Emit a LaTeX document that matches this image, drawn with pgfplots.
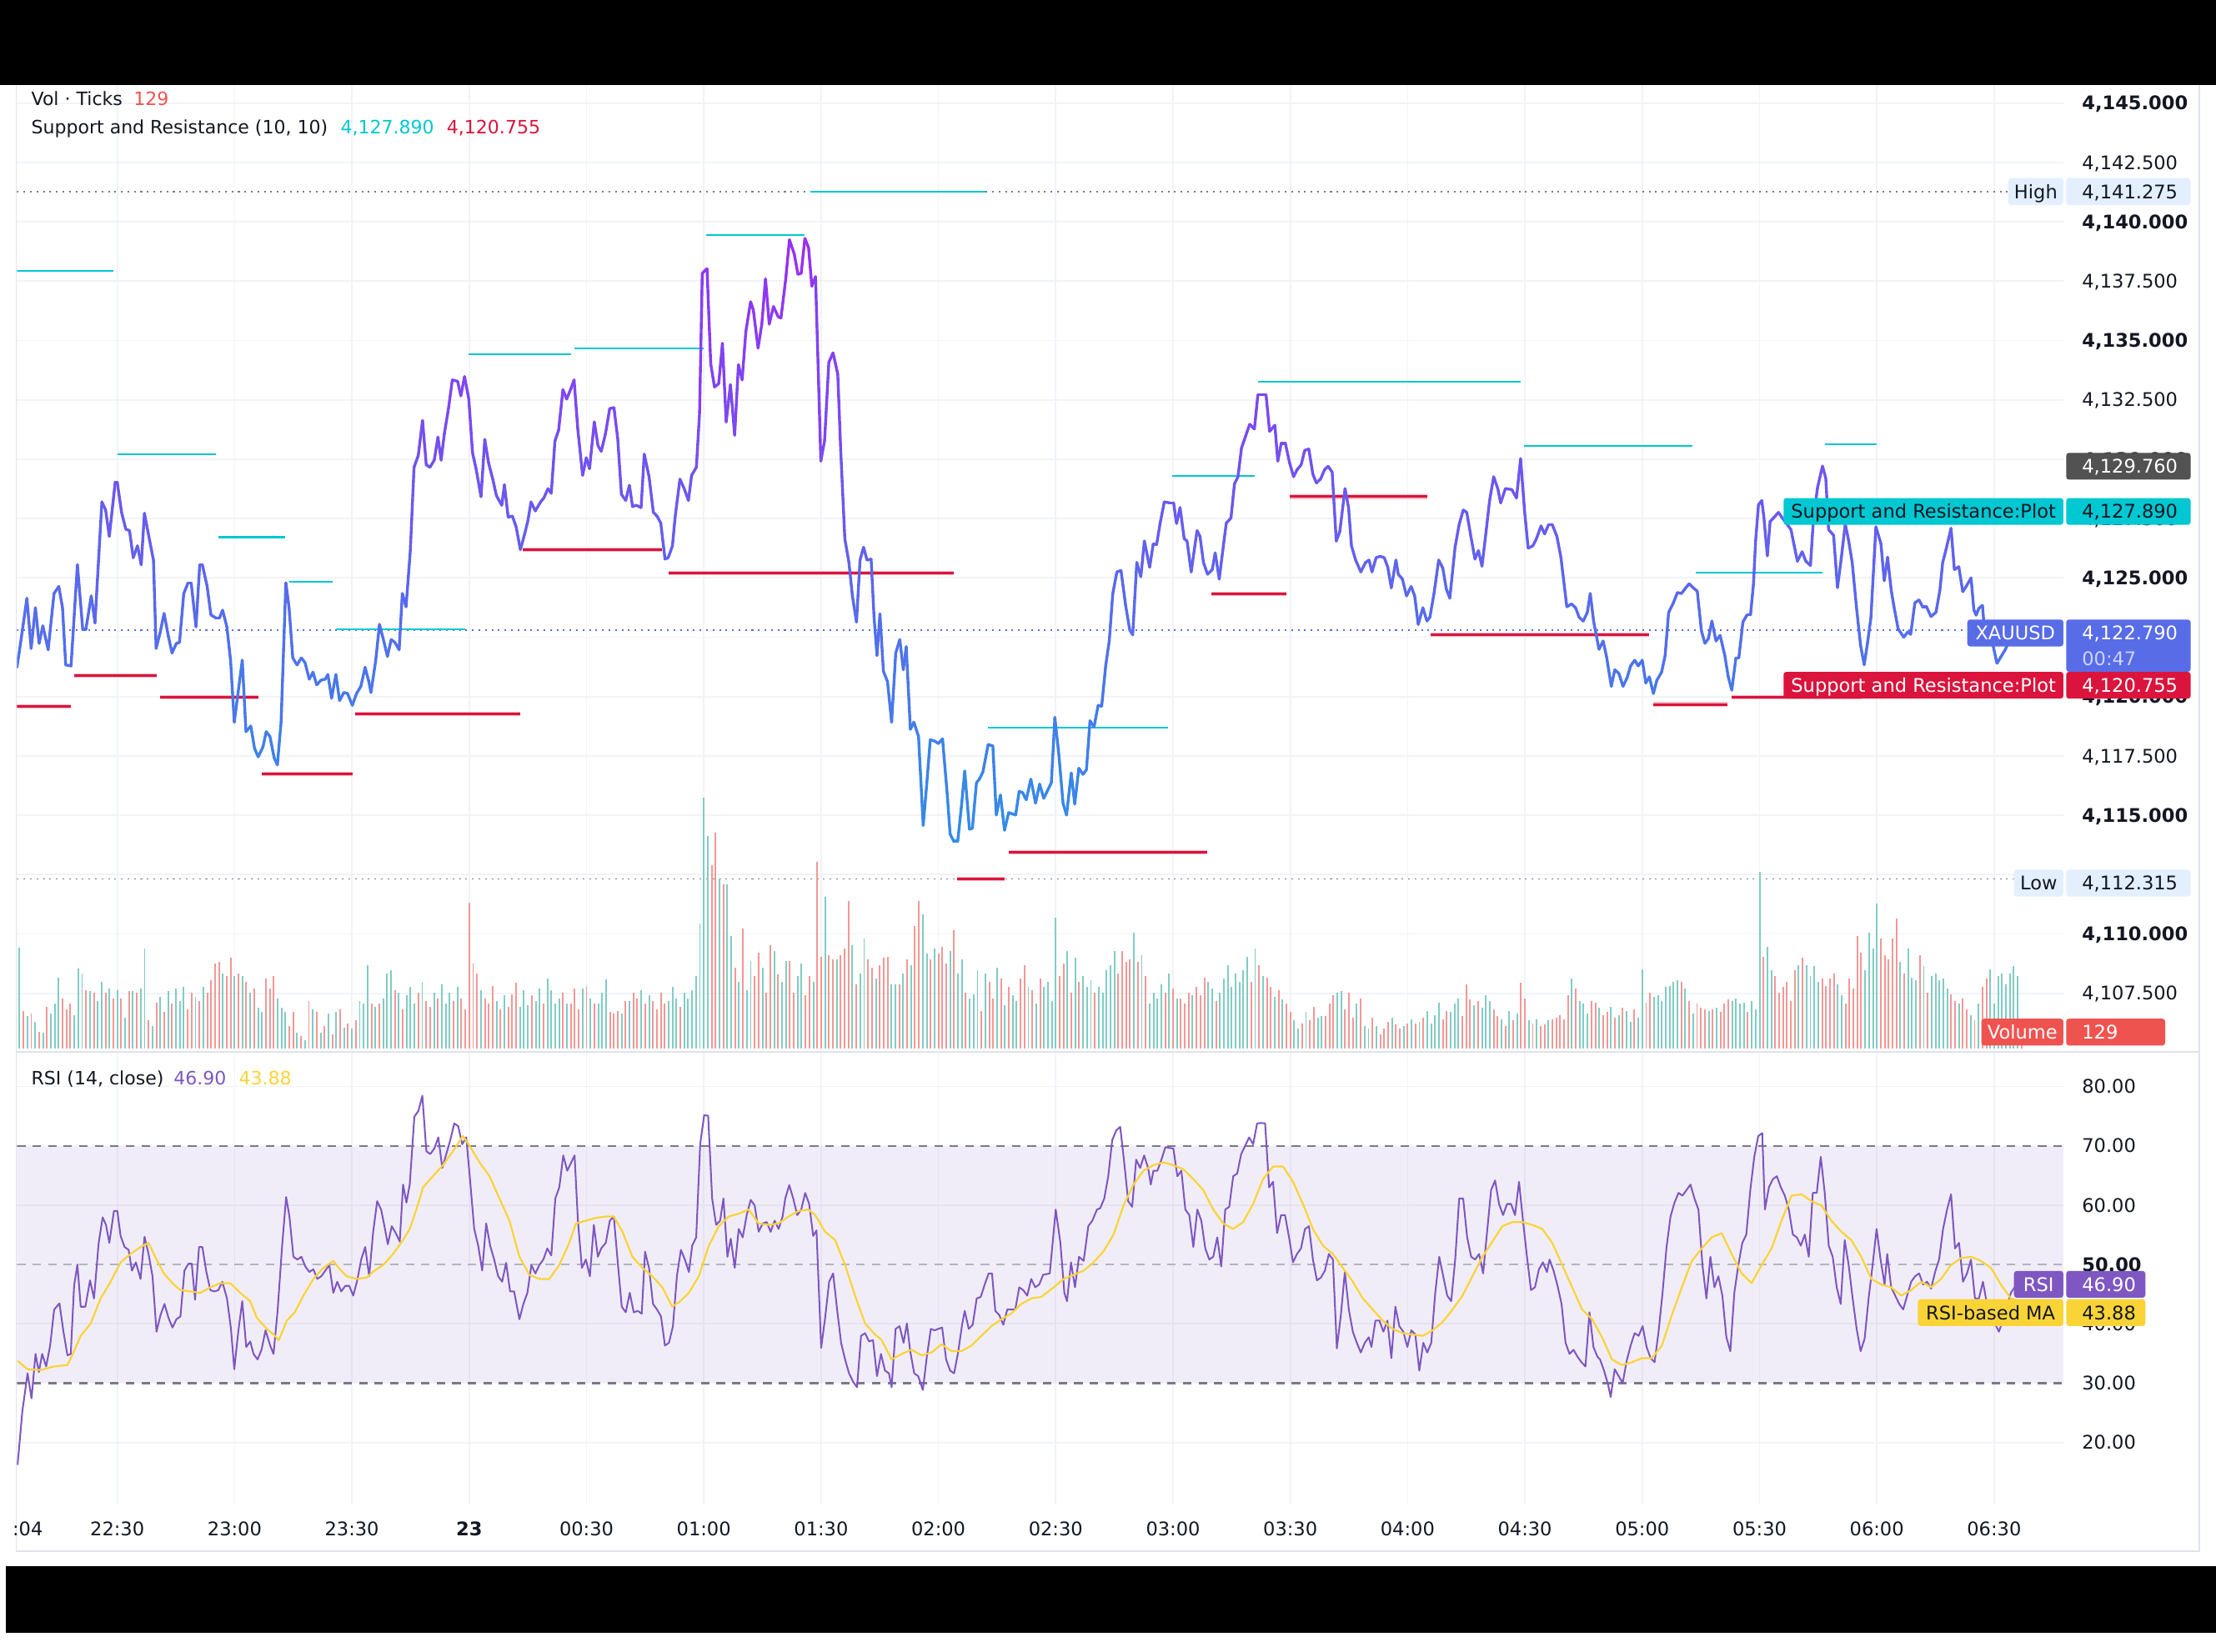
\documentclass[border=0pt]{standalone}
\usepackage{pgfplots}
\pgfplotsset{compat=1.18}
\usepackage{pgfplotstable}
\usepackage{fontspec}
\setmainfont{DejaVu Sans}

\definecolor{txt}{RGB}{19,23,34}
\definecolor{gridc}{RGB}{241,243,247}
\definecolor{framec}{RGB}{224,227,235}
\definecolor{srcyan}{RGB}{0,200,210}
\definecolor{srred}{RGB}{218,20,60}
\definecolor{volup}{RGB}{128,204,196}
\definecolor{voldn}{RGB}{242,152,150}
\definecolor{volbox}{RGB}{239,83,80}
\definecolor{rsic}{RGB}{126,87,194}
\definecolor{mac}{RGB}{250,212,55}
\definecolor{hlbox}{RGB}{227,239,253}
\definecolor{lastc}{RGB}{88,108,232}
\definecolor{timerc}{RGB}{205,212,250}
\definecolor{darkbox}{RGB}{82,82,82}
\definecolor{lvl}{RGB}{120,123,134}
\definecolor{lvlmid}{RGB}{178,181,190}

% XAUUSD closes (minutes after 22:00, price)
\pgfplotstableread[row sep=\\]{
t p\\
4.34 4121.23\\ 5.25 4122.24\\ 6.88 4124.14\\ 7.97 4122.03\\ 9.06 4123.74\\ 10.01 4122.24\\ 10.96 4122.98\\ 12.32 4121.97\\ 13.82 4124.34\\ 15.04 4124.64\\
15.99 4123.74\\ 16.81 4121.33\\ 18.17 4121.29\\ 19.80 4125.55\\ 21.16 4122.84\\ 21.98 4122.84\\ 23.34 4124.24\\ 24.29 4123.10\\ 26.06 4128.20\\ 27.01 4127.86\\
27.96 4126.75\\ 29.46 4129.02\\ 30.00 4129.02\\ 31.09 4127.76\\ 32.18 4127.05\\ 33.13 4126.99\\ 34.08 4125.85\\ 35.17 4126.35\\ 36.12 4125.55\\ 36.94 4127.72\\
38.30 4126.55\\ 39.25 4125.75\\ 39.93 4122.03\\ 40.88 4122.64\\ 41.97 4123.50\\ 43.06 4122.54\\ 44.01 4121.83\\ 45.10 4122.24\\ 45.91 4122.28\\ 47.00 4124.34\\
48.09 4124.79\\ 48.90 4124.79\\ 50.13 4122.94\\ 51.08 4125.55\\ 51.76 4125.55\\ 52.98 4124.64\\ 53.94 4123.44\\ 55.30 4123.30\\ 56.11 4123.30\\ 56.93 4123.64\\
58.02 4122.94\\ 58.97 4121.53\\ 59.92 4118.92\\ 61.96 4121.53\\ 62.91 4118.52\\ 64.14 4118.76\\ 65.09 4117.82\\ 66.04 4117.46\\ 67.26 4117.88\\ 68.08 4118.52\\
69.03 4118.32\\ 70.12 4117.42\\ 70.94 4117.12\\ 71.89 4118.92\\ 73.11 4124.79\\ 73.93 4123.74\\ 74.88 4121.63\\ 75.97 4121.33\\ 77.06 4121.63\\ 78.01 4121.43\\
79.10 4120.73\\ 80.05 4121.03\\ 81.00 4120.49\\ 82.09 4120.69\\ 83.18 4120.73\\ 83.86 4120.93\\ 84.81 4119.93\\ 85.90 4120.93\\ 86.85 4119.83\\ 87.94 4120.17\\
88.89 4120.13\\ 90.11 4119.63\\ 91.20 4120.13\\ 92.29 4120.43\\ 93.38 4121.23\\ 94.33 4120.63\\ 94.87 4120.17\\ 96.10 4121.53\\ 97.05 4123.04\\ 98.00 4122.44\\
99.09 4121.69\\ 100.04 4122.40\\ 100.99 4122.28\\ 102.08 4121.97\\ 102.90 4124.34\\ 103.85 4123.78\\ 104.94 4126.15\\ 105.89 4129.66\\ 106.98 4130.16\\ 108.06 4131.63\\
109.02 4129.76\\ 109.97 4129.66\\ 111.06 4129.96\\ 112.01 4130.93\\ 112.82 4129.96\\ 113.64 4131.07\\ 114.73 4132.17\\ 115.68 4133.34\\ 117.04 4133.28\\ 117.86 4132.67\\
118.81 4133.48\\ 119.90 4132.53\\ 120.85 4130.27\\ 121.80 4129.56\\ 123.02 4128.42\\ 123.98 4130.83\\ 124.93 4129.86\\ 126.02 4129.16\\ 126.97 4128.46\\ 128.33 4128.06\\
129.01 4128.92\\ 129.96 4127.56\\ 131.05 4127.60\\ 132.00 4127.15\\ 133.09 4126.19\\ 134.18 4126.85\\ 134.99 4127.39\\ 135.81 4128.20\\ 136.90 4127.82\\ 138.26 4128.20\\
139.07 4128.36\\ 140.16 4128.76\\ 140.98 4128.56\\ 141.93 4130.77\\ 142.88 4131.23\\ 143.97 4132.93\\ 144.92 4132.53\\ 146.01 4132.97\\ 146.82 4133.34\\ 147.77 4131.27\\
149.00 4129.32\\ 149.95 4130.06\\ 150.77 4129.60\\ 151.99 4131.57\\ 152.94 4130.57\\ 153.76 4130.33\\ 154.85 4131.07\\ 155.93 4132.13\\ 157.02 4132.17\\ 157.98 4130.87\\
158.93 4128.52\\ 160.02 4128.26\\ 160.97 4128.90\\ 161.78 4128.00\\ 162.73 4128.06\\ 163.96 4127.96\\ 164.77 4130.21\\ 166.00 4129.26\\ 167.09 4127.76\\ 168.04 4127.60\\
168.99 4127.31\\ 170.08 4125.79\\ 170.90 4125.85\\ 171.98 4126.35\\ 172.66 4127.56\\ 173.89 4129.16\\ 174.98 4128.76\\ 176.06 4128.26\\ 176.88 4129.32\\ 178.10 4129.66\\
178.92 4131.97\\ 179.60 4137.83\\ 180.82 4138.03\\ 181.77 4134.02\\ 182.73 4133.04\\ 183.81 4133.18\\ 184.76 4134.88\\ 185.72 4131.57\\ 186.81 4133.14\\ 187.89 4131.01\\
188.85 4133.98\\ 189.80 4133.34\\ 190.75 4135.38\\ 191.97 4136.63\\ 192.66 4136.29\\ 193.88 4134.68\\ 194.83 4135.69\\ 195.78 4137.59\\ 196.73 4135.69\\ 197.82 4136.43\\
199.05 4135.99\\ 199.73 4135.95\\ 200.95 4137.59\\ 201.90 4139.24\\ 203.13 4138.64\\ 204.08 4137.79\\ 204.90 4137.83\\ 205.85 4139.30\\ 206.80 4138.90\\ 207.62 4137.29\\
208.57 4137.69\\ 209.93 4129.92\\ 210.88 4130.77\\ 211.97 4134.08\\ 213.05 4134.48\\ 214.26 4133.58\\ 215.01 4130.37\\ 216.06 4126.65\\ 217.11 4125.65\\ 218.00 4124.24\\
219.05 4123.14\\ 219.95 4125.75\\ 220.85 4126.29\\ 221.74 4125.75\\ 222.79 4125.79\\ 223.54 4123.34\\ 224.29 4121.73\\ 225.04 4123.48\\ 225.93 4121.07\\ 226.98 4120.63\\
228.03 4118.92\\ 229.08 4121.83\\ 230.12 4122.40\\ 231.02 4121.13\\ 231.77 4122.10\\ 232.82 4118.62\\ 233.72 4118.92\\ 234.91 4118.32\\ 236.11 4114.57\\ 237.01 4116.31\\
237.91 4118.18\\ 239.10 4118.12\\ 240.00 4118.02\\ 241.05 4118.22\\ 242.24 4115.91\\ 242.99 4114.21\\ 243.89 4113.91\\ 244.94 4113.91\\ 245.84 4115.31\\ 246.73 4116.86\\
247.93 4114.41\\ 248.68 4114.45\\ 249.73 4116.37\\ 250.47 4116.52\\ 251.37 4116.82\\ 252.72 4117.98\\ 253.92 4117.92\\ 254.81 4115.01\\ 255.86 4115.85\\ 256.91 4114.37\\
257.96 4115.11\\ 259.75 4115.01\\ 260.65 4116.01\\ 261.55 4115.95\\ 262.45 4115.65\\ 263.64 4116.52\\ 264.84 4115.51\\ 265.89 4116.31\\ 266.93 4115.71\\ 268.88 4116.37\\
269.78 4119.12\\ 270.82 4117.52\\ 271.87 4115.51\\ 272.77 4115.01\\ 273.97 4116.78\\ 274.86 4115.47\\ 275.91 4116.98\\ 276.96 4116.72\\ 277.86 4116.92\\ 278.76 4118.98\\
279.80 4118.72\\ 280.85 4119.63\\ 281.75 4119.59\\ 282.80 4121.33\\ 283.69 4122.34\\ 284.59 4124.34\\ 285.64 4125.25\\ 286.69 4125.31\\ 287.88 4123.84\\ 288.93 4122.80\\
289.68 4122.60\\ 290.73 4125.65\\ 291.77 4125.05\\ 292.67 4126.55\\ 294.02 4125.45\\ 294.92 4126.41\\ 295.81 4126.41\\ 296.71 4127.31\\ 297.76 4128.20\\ 299.11 4128.16\\
300.15 4128.16\\ 300.90 4127.29\\ 301.80 4127.96\\ 302.85 4126.65\\ 303.59 4126.55\\ 304.64 4125.25\\ 306.14 4126.99\\ 306.89 4126.75\\ 307.78 4125.65\\ 308.83 4125.15\\
310.03 4125.35\\ 310.78 4126.05\\ 311.82 4124.95\\ 312.72 4126.15\\ 313.62 4127.31\\ 314.82 4127.52\\ 315.71 4128.96\\ 316.61 4129.26\\ 317.51 4130.47\\ 318.56 4130.97\\
319.60 4131.47\\ 320.80 4131.27\\ 321.70 4132.71\\ 322.75 4132.71\\ 323.79 4132.71\\ 324.69 4131.17\\ 326.04 4131.43\\ 326.79 4129.92\\ 327.68 4130.67\\ 328.73 4130.67\\
329.78 4129.86\\ 330.83 4129.26\\ 331.72 4129.56\\ 332.77 4129.76\\ 333.67 4130.37\\ 334.72 4130.43\\ 335.77 4129.36\\ 336.66 4129.00\\ 337.71 4129.16\\ 338.76 4129.56\\
339.66 4129.70\\ 340.70 4129.46\\ 341.75 4126.55\\ 342.65 4126.95\\ 343.99 4128.76\\ 344.89 4127.96\\ 345.64 4126.35\\ 346.69 4125.75\\ 348.03 4125.25\\ 349.23 4125.65\\
350.13 4125.75\\ 350.88 4125.25\\ 351.93 4125.85\\ 352.97 4125.91\\ 354.02 4125.85\\ 354.92 4125.45\\ 355.82 4124.58\\ 357.01 4125.75\\ 357.61 4125.15\\ 358.66 4124.95\\
359.71 4124.24\\ 360.90 4124.64\\ 361.80 4124.24\\ 362.70 4123.04\\ 363.90 4123.74\\ 364.94 4123.18\\ 365.69 4123.34\\ 366.74 4124.34\\ 367.94 4125.75\\ 368.99 4125.41\\
369.88 4124.54\\ 370.78 4124.14\\ 372.13 4126.29\\ 373.17 4127.25\\ 374.22 4127.86\\ 375.12 4127.76\\ 376.17 4126.75\\ 377.21 4125.79\\ 378.11 4126.15\\ 379.01 4125.49\\
380.06 4126.95\\ 380.96 4128.26\\ 382.00 4129.26\\ 383.05 4128.76\\ 383.80 4128.16\\ 385.00 4128.76\\ 386.64 4128.72\\ 387.84 4128.36\\ 388.89 4130.02\\ 389.93 4127.76\\
390.83 4126.25\\ 392.03 4126.35\\ 392.93 4126.65\\ 394.12 4127.19\\ 395.02 4126.85\\ 396.07 4127.25\\ 396.97 4127.25\\ 398.17 4126.75\\ 399.21 4125.85\\ 400.71 4123.78\\
401.91 4123.90\\ 402.96 4123.74\\ 403.85 4123.34\\ 404.90 4123.18\\ 405.95 4123.54\\ 406.70 4124.34\\ 407.59 4123.14\\ 408.94 4121.99\\ 409.99 4122.34\\ 410.88 4121.67\\
412.08 4120.43\\ 412.98 4121.13\\ 414.03 4120.97\\ 415.07 4120.43\\ 416.12 4120.79\\ 417.02 4121.29\\ 418.07 4121.53\\ 418.96 4121.29\\ 420.01 4121.53\\ 420.91 4120.57\\
421.81 4120.83\\ 422.85 4120.13\\ 423.75 4120.69\\ 424.95 4121.03\\ 425.85 4121.73\\ 426.74 4123.54\\ 427.94 4123.94\\ 428.99 4124.38\\ 430.03 4124.34\\ 430.93 4124.54\\
431.98 4124.75\\ 433.03 4124.58\\ 434.07 4124.44\\ 435.12 4122.78\\ 436.02 4122.24\\ 436.92 4122.44\\ 437.81 4123.18\\ 438.86 4122.34\\ 439.91 4122.58\\ 441.11 4121.73\\
442.00 4120.83\\ 442.90 4120.27\\ 443.95 4121.63\\ 444.70 4121.63\\ 445.74 4123.14\\ 446.79 4123.44\\ 447.69 4123.44\\ 448.43 4124.71\\ 449.00 4126.57\\ 449.72 4128.08\\
450.57 4128.26\\ 451.14 4127.50\\ 451.99 4125.93\\ 452.70 4127.38\\ 453.77 4127.56\\ 454.84 4127.76\\ 455.91 4127.50\\ 456.98 4127.27\\ 458.04 4127.03\\ 458.75 4126.45\\
459.68 4125.70\\ 460.89 4126.10\\ 461.82 4125.70\\ 463.02 4125.52\\ 463.74 4127.38\\ 464.80 4128.78\\ 466.09 4129.71\\ 466.94 4129.19\\ 467.65 4127.03\\ 468.93 4126.80\\
469.93 4124.59\\ 470.85 4125.76\\ 471.92 4127.27\\ 472.78 4126.57\\ 473.70 4125.64\\ 474.77 4123.78\\ 475.84 4122.15\\ 476.76 4121.34\\ 477.62 4122.27\\ 478.47 4123.31\\
479.25 4125.64\\ 479.75 4127.15\\ 481.03 4126.45\\ 481.89 4124.88\\ 482.74 4125.87\\ 483.67 4124.48\\ 484.38 4123.78\\ 485.44 4122.85\\ 486.87 4122.50\\ 487.94 4122.73\\
488.65 4122.62\\ 489.72 4123.95\\ 490.78 4124.07\\ 491.71 4123.78\\ 492.70 4123.78\\ 493.84 4123.37\\ 495.12 4123.55\\ 496.12 4124.48\\ 496.83 4125.64\\ 497.90 4126.34\\
498.97 4127.09\\ 499.82 4125.35\\ 500.96 4125.47\\ 501.96 4124.42\\ 502.88 4124.65\\ 504.09 4125.00\\ 504.80 4123.66\\ 505.37 4123.43\\ 506.09 4123.72\\ 507.01 4123.84\\
507.51 4122.79\\ 508.36 4122.27\\ 509.64 4122.21\\ 510.71 4121.40\\ 511.78 4121.69\\ 512.85 4121.98\\ 513.91 4122.38\\ 516.00 4122.79\\
}\pricedata

% tick volume per 1-minute bar, bars from 22:05; negative = down bar
\pgfplotstableread[row sep=\\]{
v\\
726\\ -270\\ 230\\ -250\\ 190\\ -120\\ 110\\ -300\\ 250\\ 320\\ 510\\ -360\\ -280\\ -320\\ 240\\ 576\\ 540\\ -420\\ 410\\ -400\\ 340\\ 480\\ -400\\ 430\\ -360\\ 420\\
-360\\ 220\\ -410\\ 410\\ -400\\ 430\\ 720\\ -200\\ 160\\ -330\\ 370\\ -260\\ 410\\ -320\\ 430\\ 340\\ 440\\ -280\\ -400\\ 370\\ -340\\ 440\\ -400\\ -490\\ -610\\ -620\\ 540\\ -520\\ -650\\ 520\\
-540\\ 520\\ -480\\ 400\\ -430\\ 290\\ 260\\ -500\\ -430\\ -520\\ 360\\ 290\\ 260\\ -160\\ -260\\ 110\\ -90\\ 60\\ -340\\ 280\\ -260\\ 110\\ -160\\ 250\\ -100\\ 260\\ -280\\ 150\\ -180\\ 140\\
-200\\ 340\\ 320\\ 600\\ -320\\ 300\\ -320\\ 360\\ 540\\ 560\\ -420\\ 400\\ -280\\ 380\\ 440\\ 320\\ -400\\ 480\\ -340\\ -300\\ 400\\ -360\\ 460\\ 320\\ 400\\ -340\\ 440\\ -360\\ -280\\ -1050\\
-610\\ -540\\ 420\\ -360\\ -320\\ -450\\ 340\\ -280\\ 380\\ -300\\ -390\\ -470\\ 300\\ 420\\ 310\\ -380\\ 340\\ 430\\ -320\\ 500\\ 420\\ 320\\ 360\\ -400\\ 320\\ -320\\ -430\\ -280\\ 430\\ -440\\
360\\ -320\\ 320\\ 400\\ 496\\ -260\\ -250\\ -270\\ 250\\ -340\\ 340\\ -400\\ -360\\ 420\\ -320\\ 380\\ -340\\ -280\\ -400\\ -320\\ 340\\ 440\\ 360\\ -300\\ 400\\ 360\\ 420\\ 520\\ 900\\ 1806\\
1530\\ -1320\\ -1550\\ 1220\\ -1180\\ 1180\\ 810\\ -580\\ 480\\ -860\\ 420\\ 630\\ -520\\ -690\\ 580\\ -400\\ -744\\ 700\\ -530\\ 480\\ 630\\ -630\\ -400\\ 520\\ 610\\ -380\\ -520\\ 480\\ -1340\\ -660\\
1090\\ -670\\ -640\\ 640\\ -670\\ -720\\ -1060\\ 740\\ -460\\ 540\\ 790\\ -640\\ -580\\ 500\\ -600\\ -650\\ -660\\ 460\\ 460\\ -460\\ 540\\ -640\\ 600\\ -880\\ -1060\\ 964\\ 680\\ -640\\ 720\\ -680\\
-730\\ -610\\ 700\\ -850\\ 540\\ 640\\ -400\\ 360\\ 390\\ 560\\ -270\\ 540\\ -480\\ -360\\ 580\\ -500\\ 310\\ -440\\ 380\\ 340\\ -500\\ -596\\ 440\\ -420\\ 320\\ -500\\ 440\\ 480\\ 340\\ 940\\
-520\\ -610\\ 700\\ -400\\ 650\\ -480\\ 520\\ 440\\ 490\\ -400\\ 440\\ 400\\ 560\\ 600\\ 700\\ -540\\ -700\\ -620\\ -640\\ 830\\ -620\\ 670\\ -520\\ 320\\ 400\\ 360\\ 460\\ -400\\ 540\\ -430\\
360\\ -360\\ -320\\ -400\\ 380\\ -440\\ -380\\ -510\\ 480\\ 430\\ -340\\ 400\\ 500\\ 600\\ 440\\ 540\\ 480\\ 560\\ 660\\ -480\\ 720\\ -600\\ 520\\ -510\\ -440\\ 370\\ -420\\ 350\\ -320\\ -260\\
200\\ 140\\ -180\\ 260\\ -200\\ -300\\ 220\\ 230\\ -230\\ -320\\ -380\\ 400\\ 410\\ -280\\ -400\\ -220\\ 320\\ -360\\ 160\\ 140\\ -220\\ 160\\ -100\\ -140\\ -190\\ 220\\ -170\\ -140\\ 160\\ -180\\
210\\ -180\\ 190\\ -220\\ 270\\ 180\\ 240\\ 330\\ -210\\ -270\\ 260\\ 320\\ 360\\ -230\\ -460\\ -350\\ 310\\ -340\\ 290\\ 380\\ 340\\ -280\\ -230\\ 210\\ -160\\ 270\\ -200\\ 250\\ -470\\ -360\\
200\\ -180\\ 210\\ -160\\ -170\\ 200\\ -210\\ -220\\ -240\\ -210\\ -380\\ 500\\ -430\\ 340\\ 320\\ 250\\ -340\\ -330\\ 290\\ -240\\ -260\\ 300\\ -220\\ 240\\ -290\\ 270\\ 190\\ -280\\ 220\\ 570\\
-330\\ -400\\ 370\\ 380\\ 340\\ 440\\ 450\\ 480\\ 490\\ -480\\ 430\\ -340\\ 250\\ -320\\ -290\\ -280\\ 270\\ -280\\ 290\\ -260\\ -320\\ -350\\ 340\\ 360\\ 320\\ 330\\ -260\\ 340\\ 280\\ 1270\\
-660\\ 730\\ 560\\ -520\\ -400\\ -440\\ -480\\ -340\\ -560\\ 600\\ -650\\ 600\\ 520\\ 590\\ 480\\ -500\\ -450\\ -500\\ -540\\ 460\\ 380\\ -320\\ -500\\ -430\\ -810\\ -690\\ 560\\ 830\\ 720\\ 1044\\
-790\\ -670\\ -640\\ -790\\ -936\\ 620\\ -540\\ 720\\ 510\\ 490\\ -670\\ 590\\ -400\\ 520\\ 540\\ 490\\ 500\\ 430\\ -390\\ -340\\ 320\\ -360\\ -280\\ 240\\ -200\\ 320\\ -440\\ -500\\ 570\\ 320\\ 520\\ 540\\ 460\\ 540\\ 590\\ 520\\ -129\\
}\voldata

% RSI (14, close)
\pgfplotstableread[row sep=\\]{
t v\\
4.50 16.22\\ 5.69 25.11\\ 7.05 31.66\\ 8.07 27.45\\ 9.09 34.93\\ 9.94 31.89\\ 10.79 34.93\\ 11.81 32.83\\ 12.83 36.34\\ 13.85 42.42\\ 15.21 43.45\\ 16.23 38.68\\
17.25 34.70\\ 18.10 34.93\\ 18.95 46.40\\ 19.80 50.00\\ 20.65 42.89\\ 21.84 42.89\\ 23.03 47.33\\ 24.05 44.29\\ 25.24 53.65\\ 26.26 57.95\\ 27.11 56.69\\ 27.96 53.65\\
29.15 59.03\\ 30.00 59.03\\ 30.85 54.82\\ 31.87 52.95\\ 32.89 52.48\\ 33.74 48.97\\ 34.76 50.37\\ 35.95 47.57\\ 36.97 54.68\\ 37.99 51.78\\ 39.01 48.03\\ 40.03 38.68\\
41.05 41.48\\ 42.07 43.36\\ 43.09 41.02\\ 44.11 39.38\\ 45.13 40.78\\ 46.15 41.25\\ 47.17 48.97\\ 48.19 50.14\\ 49.04 50.14\\ 49.89 44.06\\ 50.91 52.95\\ 51.76 52.95\\
52.78 48.74\\ 53.80 45.69\\ 54.82 45.46\\ 55.84 45.69\\ 56.86 47.10\\ 58.05 44.29\\ 59.07 39.15\\ 59.92 32.36\\ 60.94 38.68\\ 61.96 43.82\\ 62.98 36.10\\ 64.00 37.04\\
64.85 34.93\\ 65.87 34.00\\ 66.89 35.64\\ 67.91 38.91\\ 69.10 36.34\\ 69.95 34.93\\ 70.97 41.95\\ 72.16 53.18\\ 73.18 61.37\\ 74.03 58.09\\ 75.04 51.31\\ 76.07 50.84\\
77.08 51.31\\ 78.10 49.67\\ 79.12 48.74\\ 80.14 49.20\\ 81.16 47.57\\ 82.18 48.03\\ 83.20 48.97\\ 84.22 49.91\\ 85.24 45.23\\ 86.26 47.10\\ 87.28 45.46\\ 88.30 46.40\\
89.32 46.40\\ 90.34 44.76\\ 91.36 47.33\\ 92.38 50.84\\ 93.40 52.95\\ 94.42 48.03\\ 95.44 55.52\\ 96.46 60.67\\ 97.48 59.26\\ 98.33 56.46\\ 99.18 53.41\\ 100.20 56.46\\
101.22 55.29\\ 102.24 53.88\\ 103.09 63.47\\ 103.94 60.43\\ 104.79 63.47\\ 105.98 74.93\\ 107.00 75.87\\ 108.02 78.44\\ 109.04 69.09\\ 110.06 68.62\\ 111.08 69.55\\ 112.10 71.43\\
113.12 66.28\\ 114.14 68.62\\ 115.16 70.96\\ 116.18 73.77\\ 117.20 73.30\\ 118.22 70.26\\ 119.24 71.43\\ 120.26 63.94\\ 121.28 55.99\\ 122.30 53.18\\ 123.32 48.97\\ 124.34 56.92\\
125.36 53.18\\ 126.38 50.84\\ 127.40 48.03\\ 128.42 47.10\\ 129.44 50.28\\ 130.46 45.46\\ 131.48 45.46\\ 132.84 40.78\\ 133.86 43.36\\ 134.88 45.23\\ 135.90 49.91\\ 136.92 48.50\\
137.94 49.91\\ 138.96 50.84\\ 139.98 52.71\\ 141.00 51.54\\ 142.02 61.13\\ 143.04 63.00\\ 144.06 68.39\\ 145.08 65.81\\ 146.10 67.22\\ 146.95 68.39\\ 147.80 57.39\\ 148.82 49.44\\
149.84 50.84\\ 150.86 48.03\\ 151.88 56.69\\ 152.90 51.31\\ 153.75 52.71\\ 154.93 53.65\\ 155.96 57.39\\ 156.98 58.09\\ 157.99 50.37\\ 159.02 42.89\\ 160.04 41.95\\ 161.06 45.23\\
162.08 41.95\\ 163.10 42.19\\ 164.12 41.72\\ 164.97 52.15\\ 165.99 49.44\\ 167.01 43.36\\ 168.03 42.42\\ 169.05 41.25\\ 170.06 36.34\\ 171.09 36.81\\ 172.10 39.61\\ 173.12 48.03\\
174.14 52.48\\ 175.16 50.84\\ 176.18 48.74\\ 177.03 53.18\\ 178.05 54.58\\ 179.07 70.26\\ 180.09 75.17\\ 181.11 75.07\\ 182.13 61.13\\ 183.15 56.69\\ 184.17 57.39\\ 185.02 61.13\\
186.04 51.31\\ 186.89 54.35\\ 187.91 49.44\\ 188.93 55.99\\ 189.95 54.58\\ 190.97 58.33\\ 191.99 60.90\\ 193.01 59.96\\ 194.03 55.52\\ 195.05 56.92\\ 196.07 57.16\\ 197.09 55.52\\
198.11 57.39\\ 199.13 55.99\\ 200.15 58.09\\ 200.83 61.13\\ 201.85 63.38\\ 202.87 61.13\\ 203.89 58.33\\ 204.91 59.26\\ 205.93 62.07\\ 206.95 60.20\\ 207.97 54.82\\ 208.82 55.75\\
210.01 35.96\\ 211.03 41.02\\ 212.05 47.10\\ 213.07 48.50\\ 214.09 42.42\\ 215.11 36.81\\ 216.13 34.00\\ 217.15 31.66\\ 218.17 30.26\\ 219.19 29.32\\ 220.21 37.98\\ 221.23 38.44\\
222.25 37.04\\ 223.27 37.27\\ 224.29 31.19\\ 225.31 34.93\\ 226.33 32.13\\ 227.35 31.66\\ 228.03 29.32\\ 229.05 39.15\\ 230.07 39.61\\ 231.09 36.81\\ 231.94 40.08\\ 232.79 35.40\\
233.81 31.66\\ 234.83 31.19\\ 236.02 28.85\\ 237.04 34.47\\ 238.06 39.15\\ 239.08 38.91\\ 239.93 39.15\\ 240.95 39.38\\ 241.97 34.00\\ 242.99 32.13\\ 244.01 31.66\\ 245.03 35.17\\
246.05 39.85\\ 246.73 42.19\\ 247.75 39.15\\ 248.77 39.85\\ 249.79 44.29\\ 250.81 44.53\\ 251.83 46.63\\ 252.85 48.50\\ 253.70 48.50\\ 254.55 42.19\\ 255.57 41.48\\ 256.59 39.85\\
257.61 42.42\\ 258.63 42.42\\ 259.65 42.42\\ 260.67 46.16\\ 261.69 45.69\\ 262.71 44.76\\ 263.73 47.57\\ 264.75 46.16\\ 265.77 46.63\\ 266.79 48.27\\ 268.48 48.50\\ 270.00 59.26\\
271.19 53.65\\ 272.21 45.23\\ 272.89 43.82\\ 273.91 50.37\\ 274.93 46.16\\ 275.95 51.31\\ 277.14 50.61\\ 278.33 56.46\\ 279.35 57.39\\ 280.54 59.26\\ 281.39 59.50\\ 282.41 61.13\\
283.43 64.88\\ 284.45 70.96\\ 285.47 72.60\\ 286.49 73.20\\ 287.51 67.22\\ 288.53 60.67\\ 289.55 59.73\\ 290.57 67.68\\ 291.59 66.28\\ 292.61 68.39\\ 293.63 66.28\\ 294.31 63.47\\
294.99 65.81\\ 296.01 65.81\\ 297.03 67.68\\ 298.05 69.79\\ 299.07 69.65\\ 300.09 69.55\\ 301.11 64.88\\ 302.13 65.81\\ 303.15 59.26\\ 304.17 58.33\\ 305.19 52.95\\ 306.21 59.26\\
307.23 57.39\\ 308.25 52.71\\ 309.27 50.84\\ 310.29 51.31\\ 311.31 54.58\\ 312.33 49.67\\ 313.35 59.26\\ 314.37 59.73\\ 315.39 64.88\\ 316.41 65.34\\ 317.43 68.62\\ 318.45 70.02\\
319.46 71.43\\ 320.49 70.26\\ 321.50 73.77\\ 322.52 73.86\\ 323.55 73.77\\ 324.57 63.00\\ 325.58 63.94\\ 326.61 55.29\\ 327.63 58.33\\ 328.64 58.33\\ 329.67 54.58\\ 330.68 50.37\\
331.70 51.78\\ 332.72 52.71\\ 333.74 55.99\\ 334.76 56.46\\ 335.78 50.84\\ 336.80 47.33\\ 337.82 47.80\\ 338.84 48.97\\ 339.86 51.78\\ 340.88 50.84\\ 341.90 35.87\\ 342.92 41.48\\
343.94 48.74\\ 344.96 42.42\\ 345.98 38.68\\ 347.00 36.81\\ 348.02 35.17\\ 349.04 36.81\\ 350.06 37.74\\ 350.74 36.10\\ 351.76 40.55\\ 352.78 40.55\\ 353.80 38.68\\ 354.82 40.55\\
355.84 34.23\\ 356.86 42.89\\ 357.88 39.61\\ 358.90 38.68\\ 359.92 36.10\\ 360.94 38.91\\ 361.96 38.21\\ 362.98 32.13\\ 364.00 36.81\\ 365.02 35.17\\ 366.04 36.81\\ 367.06 45.23\\
368.08 51.31\\ 369.10 48.03\\ 370.12 44.76\\ 371.14 43.82\\ 372.16 50.84\\ 373.18 61.13\\ 374.20 61.13\\ 375.22 54.58\\ 376.24 51.31\\ 377.26 50.84\\ 378.28 51.78\\ 379.30 48.50\\
380.32 55.52\\ 381.34 62.54\\ 382.36 64.17\\ 383.38 60.20\\ 384.40 58.33\\ 385.42 60.20\\ 386.44 60.20\\ 387.46 58.33\\ 388.48 63.94\\ 389.50 57.39\\ 390.52 51.31\\ 391.54 45.69\\
392.56 46.16\\ 393.58 49.20\\ 394.60 50.37\\ 395.62 48.74\\ 396.30 50.84\\ 397.32 48.97\\ 398.34 46.40\\ 399.36 43.36\\ 400.38 36.81\\ 401.40 34.93\\ 402.42 35.64\\ 403.44 34.47\\
404.46 33.53\\ 405.48 32.83\\ 406.50 41.95\\ 407.52 36.10\\ 408.54 34.47\\ 409.21 34.00\\ 410.23 32.13\\ 411.25 29.79\\ 411.93 27.68\\ 412.95 32.36\\ 413.97 31.19\\ 414.99 30.02\\
416.01 33.76\\ 417.03 36.34\\ 418.05 38.44\\ 419.07 37.98\\ 420.09 39.61\\ 421.11 36.10\\ 422.13 34.23\\ 423.15 33.53\\ 424.17 38.68\\ 425.19 45.23\\ 426.21 52.95\\ 427.23 58.09\\
428.25 60.43\\ 429.27 62.07\\ 430.29 61.60\\ 431.31 62.54\\ 432.33 63.47\\ 433.35 61.13\\ 434.37 59.26\\ 435.39 49.91\\ 436.41 44.29\\ 437.43 51.31\\ 438.45 46.16\\ 439.47 48.03\\
440.49 44.76\\ 441.51 37.74\\ 442.53 35.40\\ 443.55 45.23\\ 444.57 49.91\\ 445.59 53.65\\ 446.61 55.05\\ 447.63 62.54\\ 448.65 68.15\\ 449.67 71.66\\ 450.69 72.13\\ 451.37 59.26\\
452.39 63.00\\ 453.41 64.41\\ 454.43 64.88\\ 455.45 63.00\\ 456.47 61.60\\ 457.49 59.26\\ 458.51 55.05\\ 459.53 54.58\\ 460.55 53.18\\ 461.57 55.05\\ 462.59 51.31\\ 463.61 62.07\\
464.63 62.07\\ 465.65 68.15\\ 466.67 62.07\\ 467.69 53.18\\ 468.71 51.31\\ 469.73 46.16\\ 470.75 43.36\\ 471.77 54.12\\ 472.79 49.91\\ 473.81 44.29\\ 474.83 39.15\\ 475.85 35.40\\
476.87 37.51\\ 477.89 44.29\\ 478.91 49.91\\ 479.93 55.99\\ 480.95 50.84\\ 481.97 46.63\\ 482.65 51.78\\ 483.67 46.16\\ 484.69 44.76\\ 485.71 43.36\\ 486.73 42.42\\ 487.75 44.76\\
488.77 47.10\\ 489.79 48.03\\ 490.81 48.50\\ 491.83 46.63\\ 492.85 47.10\\ 493.87 45.93\\ 494.89 48.74\\ 495.91 50.84\\ 496.93 55.99\\ 497.95 59.26\\ 498.97 61.84\\ 499.99 52.71\\
501.01 53.65\\ 502.03 47.10\\ 503.05 48.50\\ 504.07 50.84\\ 505.09 44.29\\ 506.11 44.29\\ 507.13 47.10\\ 508.15 43.36\\ 509.17 42.42\\ 510.19 40.08\\ 511.21 38.68\\ 512.23 40.55\\
513.25 42.89\\ 514.27 45.23\\ 516.00 46.90\\
}\rsidata

% RSI-based moving average
\pgfplotstableread[row sep=\\]{
t v\\
4.50 33.76\\ 7.05 32.36\\ 10.45 32.22\\ 13.85 32.83\\ 17.25 33.06\\ 18.95 35.40\\ 20.65 37.98\\ 23.20 40.08\\ 25.75 44.29\\ 28.30 47.10\\ 30.85 50.37\\ 33.40 51.78\\
35.95 52.95\\ 37.99 53.65\\ 39.69 51.31\\ 41.90 48.50\\ 44.45 46.63\\ 46.15 45.69\\ 48.70 45.46\\ 51.25 45.23\\ 53.80 46.16\\ 56.35 46.86\\ 58.90 46.86\\ 61.45 45.23\\
64.00 43.82\\ 65.70 41.02\\ 68.25 39.15\\ 69.95 38.21\\ 71.31 37.27\\ 73.35 40.55\\ 75.39 41.95\\ 77.60 44.76\\ 80.14 47.57\\ 82.69 49.44\\ 85.24 50.61\\ 86.94 49.20\\
88.64 48.03\\ 91.19 47.57\\ 93.74 47.80\\ 95.78 48.97\\ 97.99 49.91\\ 100.54 51.78\\ 103.09 54.12\\ 104.79 55.99\\ 106.49 59.26\\ 108.19 63.00\\ 110.74 64.88\\ 113.29 66.75\\
115.84 69.09\\ 118.39 71.66\\ 120.09 70.02\\ 122.64 67.22\\ 125.19 64.88\\ 127.74 61.13\\ 130.29 57.39\\ 132.84 51.31\\ 135.39 48.27\\ 137.94 47.57\\ 140.49 47.57\\ 143.04 49.91\\
145.59 53.65\\ 147.29 56.92\\ 149.84 57.39\\ 152.39 57.86\\ 154.93 58.09\\ 156.98 58.09\\ 159.19 55.52\\ 161.74 51.31\\ 164.29 49.44\\ 166.84 48.03\\ 169.39 46.16\\ 171.94 42.89\\
173.97 43.82\\ 176.18 45.23\\ 178.73 48.03\\ 181.28 53.18\\ 183.83 56.46\\ 186.38 58.09\\ 188.93 58.56\\ 191.48 59.26\\ 194.03 56.92\\ 196.58 56.69\\ 199.13 56.92\\ 201.68 58.09\\
204.23 59.03\\ 206.78 59.26\\ 208.48 58.33\\ 211.03 55.52\\ 213.58 54.12\\ 216.13 49.91\\ 218.68 44.76\\ 221.23 40.08\\ 223.78 38.21\\ 225.48 37.27\\ 228.03 34.00\\ 230.58 34.93\\
233.13 35.64\\ 235.68 34.70\\ 238.23 35.17\\ 240.78 36.57\\ 243.33 35.40\\ 245.88 35.40\\ 248.43 36.34\\ 250.98 37.98\\ 253.53 39.61\\ 256.08 40.78\\ 258.63 41.72\\ 261.18 43.36\\
263.73 44.29\\ 266.28 44.53\\ 269.49 46.16\\ 272.04 47.57\\ 274.59 48.27\\ 277.14 48.97\\ 279.69 50.37\\ 282.24 52.24\\ 284.79 55.05\\ 287.34 59.96\\ 289.89 63.47\\ 292.44 65.81\\
294.99 66.75\\ 297.54 67.22\\ 300.09 66.75\\ 302.64 66.05\\ 305.19 64.41\\ 307.74 62.54\\ 310.29 59.26\\ 312.84 56.92\\ 315.39 55.99\\ 317.94 57.16\\ 320.48 60.20\\ 323.03 64.41\\
325.58 66.51\\ 328.13 66.51\\ 330.68 63.94\\ 333.23 60.20\\ 335.78 55.99\\ 338.33 53.18\\ 340.88 51.78\\ 343.43 49.44\\ 345.98 47.10\\ 348.53 44.29\\ 351.08 42.42\\ 353.63 40.55\\
356.18 39.15\\ 358.73 38.44\\ 361.28 38.21\\ 363.83 37.98\\ 366.38 38.91\\ 368.93 40.31\\ 371.48 42.42\\ 374.03 44.76\\ 376.58 48.03\\ 379.13 51.31\\ 381.68 53.88\\ 384.23 56.46\\
386.78 57.16\\ 389.33 57.16\\ 391.88 56.69\\ 394.43 55.99\\ 396.98 53.65\\ 399.53 49.91\\ 402.08 46.16\\ 404.62 42.42\\ 407.17 40.78\\ 409.72 37.74\\ 412.27 34.00\\ 414.82 33.06\\
417.37 33.53\\ 419.92 34.23\\ 422.47 34.23\\ 425.02 36.34\\ 427.57 41.48\\ 430.12 46.16\\ 432.67 50.61\\ 435.22 52.71\\ 437.77 54.58\\ 440.32 55.29\\ 442.87 51.78\\ 445.42 48.50\\
447.97 46.86\\ 450.52 49.91\\ 453.07 52.71\\ 455.62 57.39\\ 458.17 61.60\\ 460.72 61.84\\ 463.27 60.67\\ 465.82 59.96\\ 468.37 57.39\\ 470.92 55.52\\ 473.47 54.12\\ 476.02 51.31\\
478.57 47.57\\ 481.12 46.63\\ 483.67 46.16\\ 486.22 44.76\\ 488.77 45.69\\ 491.32 47.10\\ 493.87 46.16\\ 496.42 47.57\\ 498.97 49.91\\ 501.52 51.08\\ 504.07 51.31\\ 506.62 50.61\\
509.17 49.44\\ 511.72 46.63\\ 514.27 44.29\\ 516.00 43.88\\
}\madata

\pgfplotsset{
  pane/.style={
    scale only axis, anchor=south west, width=1448pt,
    xmin=4.34, xmax=527.7,
    axis line style={draw=none}, major tick length=0pt,
    xtick={30,60,...,510}, xticklabels={}, yticklabels={},
    grid=major, major grid style={draw=gridc, line width=1pt},
  },
}

% resistance (cyan) and support (red) levels: from, to, price
\newcommand\rline[3]{\addplot[srcyan, line width=1.4pt] coordinates {(#1,#3) (#2,#3)};}
\newcommand\sline[3]{\addplot[srred!30, line width=3.2pt] coordinates {(#1,#3) (#2,#3)};
  \addplot[srred, line width=1.7pt] coordinates {(#1,#3) (#2,#3)};}

\tikzset{
  pl/.style={anchor=west, inner sep=0pt, text height=9.7pt, text depth=0pt, text=txt},
  tl/.style={inner sep=0pt, text height=9.7pt, text depth=0pt, text=txt},
  lg/.style={anchor=west, inner sep=0pt, text height=9.4pt, text depth=0pt,
    font=\fontsize{13}{15}\selectfont, text=txt},
}
% scale tags: x1, x2, y centre, fill, text colour, text
\newcommand\tagbox[6]{%
  \fill[#4, rounded corners=2pt] (#1,#3-9.5) rectangle (#2,#3+9.5);
  \node[tl, text=#5] at ({(#1+#2)/2},#3) {#6};}
% scale value boxes: right edge, y centre, fill, text colour, text
\newcommand\valbox[5]{%
  \fill[#3, rounded corners=2pt] (1462,#2-9.5) rectangle (#1,#2+9.5);
  \node[pl, text=#4] at (1473,#2) {#5};}

\begin{document}
\begin{tikzpicture}[x=1pt, y=1pt, font=\fontsize{13.3}{16}\selectfont]
\fill[white] (0,0) rectangle (1568,1169);

% ---------------- price pane ----------------
\begin{axis}[pane, at={(12pt,424pt)}, height=685pt,
  ymin=4105, ymax=4145.774, ytick={4107.5,4110,...,4145},
  colormap={pricegrad}{rgb255=(45,145,232) rgb255=(70,122,234) rgb255=(100,95,238) rgb255=(128,68,242) rgb255=(158,42,246)},
  point meta min=4113, point meta max=4140]
  \addplot[lvl, line width=1.1pt, dash pattern=on 1.2pt off 3.4pt] coordinates {(4.34,4141.275) (527.7,4141.275)};
  \addplot[lvl, line width=1.1pt, dash pattern=on 1.2pt off 3.4pt] coordinates {(4.34,4112.315) (527.7,4112.315)};
  \addplot[lastc, line width=1.1pt, dash pattern=on 1.2pt off 3.4pt] coordinates {(4.34,4122.79) (527.7,4122.79)};
  \rline{4.34}{29.05}{4137.93}
  \rline{30.00}{55.16}{4130.20}
  \rline{55.84}{72.98}{4126.71}
  \rline{73.93}{85.08}{4124.83}
  \rline{85.90}{118.94}{4122.84}
  \rline{119.90}{146.00}{4134.42}
  \rline{146.82}{180.00}{4134.66}
  \rline{180.69}{205.85}{4139.44}
  \rline{207.20}{251.97}{4141.27}
  \rline{252.72}{298.81}{4118.68}
  \rline{299.85}{320.80}{4129.30}
  \rline{321.85}{388.89}{4133.26}
  \rline{389.78}{432.88}{4130.55}
  \rline{433.77}{466.00}{4125.22}
  \rline{466.80}{479.96}{4130.63}
  \sline{4.34}{18.17}{4119.59}
  \sline{19.00}{40.06}{4120.89}
  \sline{40.88}{66.04}{4119.97}
  \sline{66.86}{90.11}{4116.74}
  \sline{90.93}{133.09}{4119.27}
  \sline{133.77}{169.40}{4126.19}
  \sline{170.90}{243.89}{4125.21}
  \sline{244.79}{256.91}{4112.32}
  \sline{257.96}{308.83}{4113.44}
  \sline{309.88}{329.03}{4124.32}
  \sline{329.93}{364.94}{4128.42}
  \sline{365.84}{421.81}{4122.60}
  \sline{422.85}{441.85}{4119.67}
  \sline{442.90}{475.98}{4119.98}
  \addplot[mesh, point meta=y, line width=2pt, line cap=round, line join=round]
    table[x=t, y=p] {\pricedata};
\end{axis}

% ---------------- volume ----------------
\begin{axis}[scale only axis, anchor=south west, at={(12pt,427pt)}, width=1448pt, height=200pt,
  xmin=4.34, xmax=527.7, ymin=0, ymax=2034, hide axis]
  \addplot[ycomb, volup, line width=1.15pt]
    table[x index=0, y index=0, x expr=\coordindex+5, y expr={max((\thisrowno{0}),0)}] {\voldata};
  \addplot[ycomb, voldn, line width=1.15pt]
    table[x index=0, y index=0, x expr=\coordindex+5, y expr={max(-1*(\thisrowno{0}),0)}] {\voldata};
\end{axis}

% ---------------- RSI pane ----------------
\begin{axis}[pane, at={(12pt,104pt)}, height=320pt,
  ymin=9.52, ymax=85.71, ytick={20,40,60,80}]
  \addplot[draw=none, fill=rsic, fill opacity=0.1]
    coordinates {(4.34,30) (527.7,30) (527.7,70) (4.34,70) (4.34,30)};
  \addplot[lvl, line width=1.3pt, dash pattern=on 6pt off 5pt] coordinates {(4.34,70) (527.7,70)};
  \addplot[lvlmid, line width=1.3pt, dash pattern=on 6pt off 5pt] coordinates {(4.34,50) (527.7,50)};
  \addplot[lvl, line width=1.3pt, dash pattern=on 6pt off 5pt] coordinates {(4.34,30) (527.7,30)};
  \addplot[rsic, line width=1.2pt, line join=round] table[x=t, y=v] {\rsidata};
  \addplot[mac, line width=1.3pt, line join=round] table[x=t, y=v] {\madata};
\end{axis}

% ---------------- frame, scales, labels ----------------
\begin{scope}[shift={(0,1169)}, y=-1pt]
  \draw[framec, line width=1pt] (11.5,60) -- (11.5,1098) -- (1556,1098) -- (1556,60);
  \draw[framec, line width=1.6pt] (11.5,744.5) -- (1556,744.5);

  % price scale
  \node[pl] at (1473,73)  {\bfseries 4,145.000};
  \node[pl] at (1473,115) {4,142.500};
  \node[pl] at (1473,157) {\bfseries 4,140.000};
  \node[pl] at (1473,199) {4,137.500};
  \node[pl] at (1473,241) {\bfseries 4,135.000};
  \node[pl] at (1473,283) {4,132.500};
  \node[pl] at (1473,325) {\bfseries 4,130.000};
  \node[pl] at (1473,367) {4,127.500};
  \node[pl] at (1473,409) {\bfseries 4,125.000};
  \node[pl] at (1473,451) {4,122.500};
  \node[pl] at (1473,493) {\bfseries 4,120.000};
  \node[pl] at (1473,535) {4,117.500};
  \node[pl] at (1473,577) {\bfseries 4,115.000};
  \node[pl] at (1473,661) {\bfseries 4,110.000};
  \node[pl] at (1473,703) {4,107.500};

  % RSI scale
  \node[pl] at (1473,769)  {80.00};
  \node[pl] at (1473,811)  {70.00};
  \node[pl] at (1473,853)  {60.00};
  \node[pl] at (1473,895)  {\bfseries 50.00};
  \node[pl] at (1473,937)  {40.00};
  \node[pl] at (1473,979)  {30.00};
  \node[pl] at (1473,1021) {20.00};

  % time scale
  \node[tl, anchor=east] at (30.5,1082) {:04};
  \foreach \x/\l in {83/22:30,166/23:00,249/23:30,415/00:30,498/01:00,581/01:30,664/02:00,
      747/02:30,830/03:00,913/03:30,996/04:00,1079/04:30,1162/05:00,1245/05:30,1328/06:00,1411/06:30}
    \node[tl] at (\x,1082) {\l};
  \node[tl] at (332,1082) {\bfseries 23};

  % pane legends
  \node[lg] at (22,70) {Vol · Ticks\hspace{8pt}\textcolor{volbox}{129}};
  \node[lg] at (22,90) {Support and Resistance (10, 10)\hspace{9pt}\textcolor{srcyan}{4,127.890}\hspace{9pt}\textcolor{srred}{4,120.755}};
  \node[lg] at (22,763) {RSI (14, close)\hspace{7pt}\textcolor{rsic}{46.90}\hspace{9pt}\textcolor{mac}{43.88}};

  % scale tags
  \tagbox{1421}{1460}{135.6}{hlbox}{txt}{High}
  \valbox{1550}{135.6}{hlbox}{txt}{4,141.275}
  \valbox{1550}{330}{darkbox}{white}{4,129.760}
  \tagbox{1262}{1460}{362}{srcyan}{txt}{Support and Resistance:Plot}
  \valbox{1550}{362}{srcyan}{txt}{4,127.890}
  \tagbox{1392}{1460}{448}{lastc}{white}{XAUUSD}
  \fill[lastc, rounded corners=2pt] (1462,438.5) rectangle (1550,475.5);
  \node[pl, text=white] at (1473,448) {4,122.790};
  \node[pl, text=timerc] at (1473,466) {00:47};
  \tagbox{1262}{1460}{485}{srred}{white}{Support and Resistance:Plot}
  \valbox{1550}{485}{srred}{white}{4,120.755}
  \tagbox{1425}{1460}{625}{hlbox}{txt}{Low}
  \valbox{1550}{625}{hlbox}{txt}{4,112.315}
  \tagbox{1402}{1460}{730.5}{volbox}{white}{Volume}
  \valbox{1532}{730.5}{volbox}{white}{129}
  \tagbox{1425}{1460}{909}{rsic}{white}{RSI}
  \valbox{1518}{909}{rsic}{white}{46.90}
  \tagbox{1357}{1460}{929}{mac}{txt}{RSI-based MA}
  \valbox{1518}{929}{mac}{txt}{43.88}

  % screen bars
  \fill[black] (0,0) rectangle (1568,60);
  \fill[black] (4,1108.5) rectangle (1568,1155.8);
\end{scope}

\pgfresetboundingbox
\path[use as bounding box] (0,0) rectangle (1568,1169);
\end{tikzpicture}
\end{document}
